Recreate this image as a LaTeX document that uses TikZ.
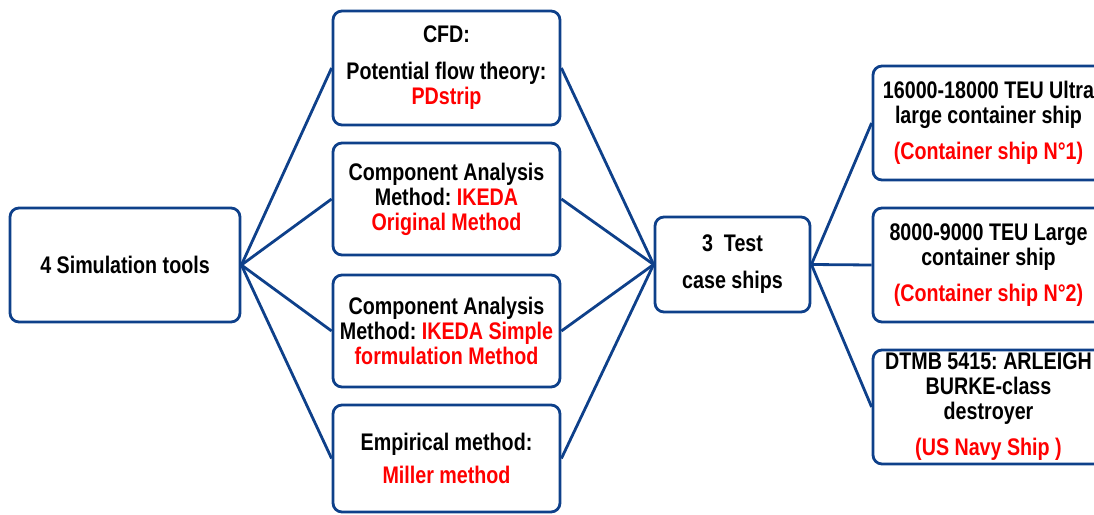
\documentclass[tikz,border=0pt]{standalone}
\usepackage{fontspec}
\setmainfont{Liberation Sans}[FakeStretch=0.82]
\usepackage{tikz}
\usetikzlibrary{positioning}
\definecolor{Cline}{RGB}{14,64,138}
\colorlet{Chl}{red}
\tikzset{
  toolbox/.style={draw=Cline, fill=white, rounded corners=9pt, line width=2.8pt,
    align=center, inner sep=0pt, minimum width=227pt,
    font=\fontsize{24}{25}\selectfont\bfseries},
  conn/.style={draw=Cline, line width=2.8pt},
}
\newcommand{\hl}[1]{{\color{Chl}#1}}
\frenchspacing

\begin{document}
\begin{tikzpicture}[x=1pt, y=-1pt]
\useasboundingbox (0,0) rectangle (1094,514);
\clip (0,0) rectangle (1094,514);

%%==========================================================================
%% LEFT — simulation tools
%%==========================================================================
\node[toolbox, minimum width=230pt, minimum height=114pt] (sim) at (125, 265)
  {4 Simulation tools};

\node[toolbox, minimum height=114pt] (cfd) at (446.5, 68)
  {CFD:\\[12pt] Potential flow theory:\\ \hl{PDstrip}};
\node[toolbox, minimum height=112pt] (ikorig) at (446.5, 199)
  {Component Analysis\\ Method: \hl{IKEDA}\\ \hl{Original Method}};
\node[toolbox, minimum height=112pt] (iksimple) at (446.5, 331)
  {Component Analysis\\ Method: \hl{IKEDA Simple}\\ \hl{formulation Method}};
\node[toolbox, minimum height=107pt] (miller) at (446.5, 458.5)
  {Empirical method:\\[8pt] \hl{Miller method}};

%%==========================================================================
%% MIDDLE — test case ships
%%==========================================================================
\node[toolbox, minimum width=155pt, minimum height=95pt] (test) at (732.5, 264.5)
  {3~~Test\\[12pt] case ships};

%%==========================================================================
%% RIGHT — the three ships (cut by the right edge)
%%==========================================================================
\node[toolbox, minimum width=231pt, minimum height=114pt] (ship1) at (988.5, 123)
  {16000-18000 TEU Ultra\\ large container ship\\[11pt] \hl{(Container ship N°1)}};
\node[toolbox, minimum width=231pt, minimum height=114pt] (ship2) at (988.5, 265)
  {8000-9000 TEU Large\\ container ship\\[11pt] \hl{(Container ship N°2)}};
\node[toolbox, minimum width=231pt, minimum height=114pt] (ship3) at (988.5, 407)
  {DTMB 5415: ARLEIGH\\ BURKE-class\\ destroyer\\[11pt] \hl{(US Navy Ship )}};

%% connectors
\draw[conn] (sim.east) -- (cfd.west);
\draw[conn] (sim.east) -- (ikorig.west);
\draw[conn] (sim.east) -- (iksimple.west);
\draw[conn] (sim.east) -- (miller.west);
\draw[conn] (cfd.east) -- (test.west);
\draw[conn] (ikorig.east) -- (test.west);
\draw[conn] (iksimple.east) -- (test.west);
\draw[conn] (miller.east) -- (test.west);
\draw[conn] (test.east) -- (ship1.west);
\draw[conn] (test.east) -- (ship2.west);
\draw[conn] (test.east) -- (ship3.west);

\end{tikzpicture}
\end{document}
